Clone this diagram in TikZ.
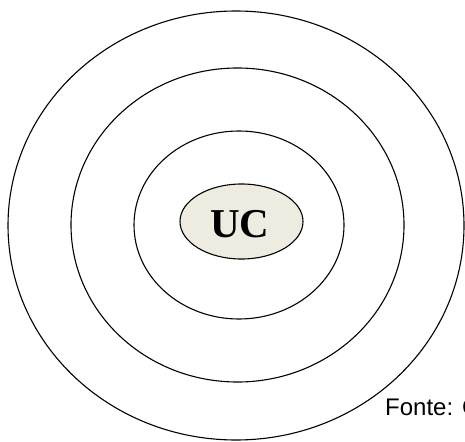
\documentclass[tikz,border=0pt]{standalone}
\usepackage{fontspec}
\setmainfont{Liberation Serif}
\newfontfamily\fontesans{Liberation Sans}
\usetikzlibrary{shapes.geometric}
\definecolor{ucfill}{HTML}{EEEBE0}
\begin{document}
\begin{tikzpicture}[x=1pt,y=-1pt,
  ring/.style={line width=1.1pt,draw=black},
  core/.style={ellipse,draw=black,line width=1.1pt,fill=ucfill,inner sep=0pt,minimum width=123pt,minimum height=75pt},
  coretext/.style={font=\bfseries\fontsize{41}{44}\selectfont,inner sep=0pt},
  source/.style={font=\fontesans\fontsize{24}{28}\selectfont,inner sep=0pt,anchor=base west}]
\useasboundingbox (0,0) rectangle (465,441);
\clip (0,0) rectangle (465,441);
\draw[ring] (236,225.5) ellipse [x radius=228, y radius=214.5];
\draw[ring] (237.5,225) ellipse [x radius=166.5, y radius=157];
\draw[ring] (239,225) ellipse [x radius=105, y radius=94];
\node[core] (uc) at (241.5,221.5) {};
\node[coretext] (uclabel) at (240,224.5) {UC};
\node[source] (fonte) at (385,415) {Fonte: C};
\end{tikzpicture}
\end{document}
